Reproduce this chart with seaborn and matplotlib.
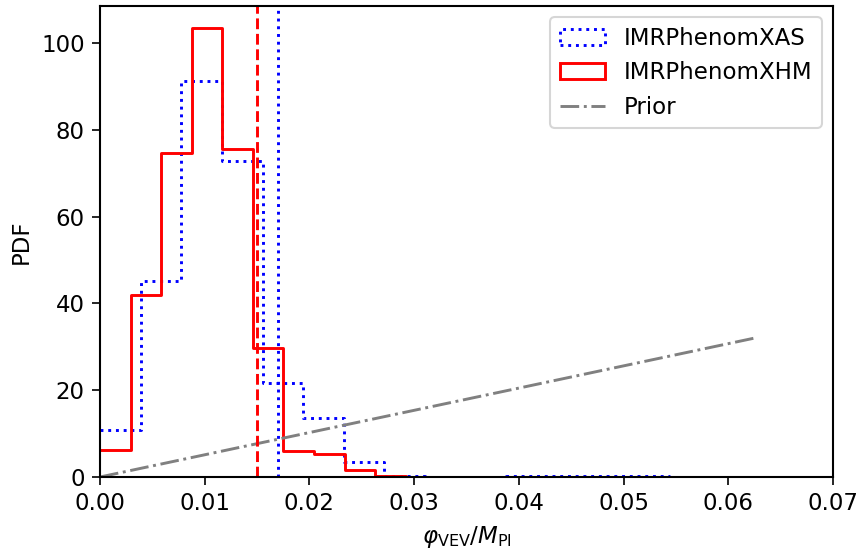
import numpy as np
import pandas as pd
import seaborn as sns
import matplotlib.pyplot as plt
import matplotlib.patches as mpatches
from matplotlib.lines import Line2D

plt.rcParams["font.size"] = 11

# histogram heights (PDF)
xas_range = (0.0, 0.0582)
xas_pdf = [10.9, 45.2, 91.2, 72.7, 21.7, 13.7, 3.4, 0.3, 0.1, 0.1, 0.2, 0.3, 0.3, 0.2, 0.1]

xhm_range = (0.0, 0.0584)
xhm_pdf = [6.3, 41.9, 74.6, 103.5, 75.6, 29.7, 6.0, 5.3, 1.7, 0.3,
           0.1, 0.0, 0.0, 0.0, 0.0, 0.0, 0.0, 0.0, 0.0, 0.1]

# prior (linear in phi) endpoints
prior_x = [0.0, 0.0625]
prior_pdf = [0.0, 32.0]

# vertical markers
xhm_marker = 0.015
xas_marker = 0.017

xas_edges = np.linspace(*xas_range, len(xas_pdf) + 1)
xhm_edges = np.linspace(*xhm_range, len(xhm_pdf) + 1)
df_xas = pd.DataFrame({"phi": 0.5 * (xas_edges[:-1] + xas_edges[1:]), "w": xas_pdf})
df_xhm = pd.DataFrame({"phi": 0.5 * (xhm_edges[:-1] + xhm_edges[1:]), "w": xhm_pdf})

fig, ax = plt.subplots(figsize=(859 / 150, 549 / 150), dpi=150)

lw = 1.4
sns.histplot(data=df_xas, x="phi", weights="w", bins=list(xas_edges), element="step", fill=False,
             color="blue", linestyle=":", linewidth=lw, ax=ax)
sns.histplot(data=df_xhm, x="phi", weights="w", bins=list(xhm_edges), element="step", fill=False,
             color="red", linestyle="-", linewidth=lw, ax=ax)
sns.lineplot(x=prior_x, y=prior_pdf, color="gray", linestyle="-.", linewidth=lw, ax=ax)

ax.axvline(xhm_marker, color="red", linestyle="--", linewidth=lw)
ax.axvline(xas_marker, color="blue", linestyle=":", linewidth=lw)

ax.set_xlim(0, 0.07)
ax.set_ylim(0, 108.5)
ax.set_xlabel(r"$\varphi_{\rm VEV}/M_{\rm Pl}$")
ax.set_ylabel("PDF")
ax.tick_params(length=3.8)
for s in ax.spines.values():
    s.set_linewidth(1.0)

handles = [
    mpatches.Patch(fill=False, edgecolor="blue", linestyle=":", linewidth=lw, label="IMRPhenomXAS"),
    mpatches.Patch(fill=False, edgecolor="red", linestyle="-", linewidth=lw, label="IMRPhenomXHM"),
    Line2D([], [], color="gray", linestyle="-.", linewidth=lw, label="Prior"),
]
ax.legend(handles=handles, loc="upper right")

plt.subplots_adjust(left=100 / 859, right=833 / 859, top=1 - 6 / 549, bottom=1 - 477 / 549)
plt.savefig("out.png", dpi=150)
